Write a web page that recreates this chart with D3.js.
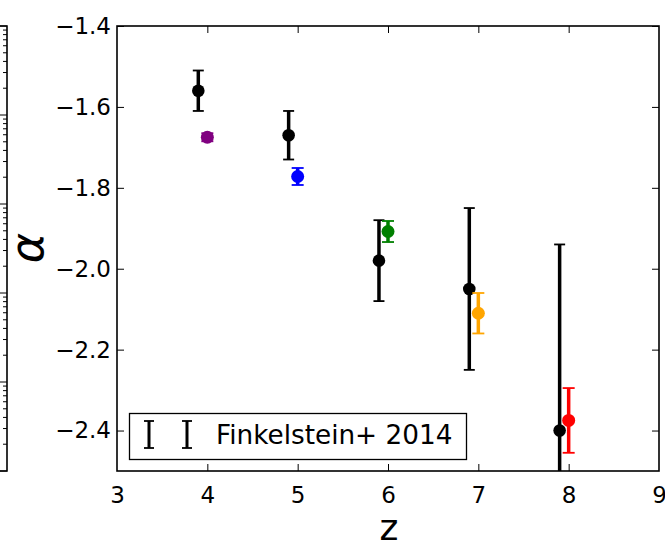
<!DOCTYPE html>
<html>
<head>
<meta charset="utf-8">
<script src="https://cdn.jsdelivr.net/npm/d3@7"></script>
<style>
  html, body { margin: 0; padding: 0; background: #fff; }
  svg { display: block; }
  text { font-family: "DejaVu Sans", sans-serif; fill: #000; }
</style>
</head>
<body>
<svg id="chart" width="665" height="543"></svg>
<script>
// ---- data ----
const finkZ = [3.9, 4.9, 5.9, 6.9, 7.9];
const finkAlpha = [-1.56, -1.67, -1.98, -2.05, -2.40];
const finkErrUp = [0.05, 0.06, 0.10, 0.20, 0.46];
const finkErrDown = [0.05, 0.06, 0.10, 0.20, 0.50];

const ourZ = [4, 5, 6, 7, 8];
const ourAlpha = [-1.675, -1.772, -1.908, -2.11, -2.375];
const ourErr = [0.01, 0.021, 0.026, 0.05, 0.08];
const ourColors = ["#800080", "#0000ff", "#008000", "#ffa500", "#ff0000"];

const xTicks = [3, 4, 5, 6, 7, 8, 9];
const yTicks = [-1.4, -1.6, -1.8, -2.0, -2.2, -2.4];
const xDomain = [3, 9];
const yDomain = [-2.5, -1.4];
const legendLabel = "Finkelstein+ 2014";
const leftPanelDomain = [1e-5, 1];

// ---- layout ----
const svg = d3.select("#chart");
const L = 117, R = 659, T = 26, B = 471;
const x = d3.scaleLinear().domain(xDomain).range([L, R]);
const y = d3.scaleLinear().domain(yDomain).range([B, T]);
const tickLen = 7;
const fmt = v => (v < 0 ? "\u2212" : "") + Math.abs(v).toFixed(1);

// ---- left (partial) panel with log axis ----
const yl = d3.scaleLog().domain(leftPanelDomain).range([B, T]);
const lp = svg.append("g");
const lpX = 7;
const logTicks = yl.ticks();
lp.selectAll("line.lt").data(logTicks).join("line")
  .attr("x1", lpX).attr("x2", d => {
    const m = d / Math.pow(10, Math.floor(Math.log10(d) + 1e-9));
    return Math.abs(m - 1) < 1e-6 ? lpX - 7 : lpX - 4;
  })
  .attr("y1", d => yl(d)).attr("y2", d => yl(d))
  .attr("stroke", "#000").attr("stroke-width", 1);
lp.append("path")
  .attr("d", `M0,${T}H${lpX}V${B}H0`)
  .attr("fill", "none").attr("stroke", "#000").attr("stroke-width", 1.6);

// ---- main axes ----
svg.append("clipPath").attr("id", "clip")
  .append("rect").attr("x", L).attr("y", T).attr("width", R - L).attr("height", B - T);

const axBottom = d3.axisBottom(x).tickValues(xTicks).tickSizeInner(-tickLen).tickSizeOuter(0).tickPadding(16).tickFormat(d3.format("d"));
const axTop = d3.axisTop(x).tickValues(xTicks).tickSizeInner(-tickLen).tickSizeOuter(0).tickFormat("");
const axLeft = d3.axisLeft(y).tickValues(yTicks).tickSizeInner(-tickLen).tickSizeOuter(0).tickPadding(6).tickFormat(fmt);
const axRight = d3.axisRight(y).tickValues(yTicks).tickSizeInner(-tickLen).tickSizeOuter(0).tickFormat("");

function styleAxis(g, fs) {
  g.select(".domain").remove();
  g.selectAll(".tick line").attr("stroke", "#000").attr("stroke-width", 1);
  g.selectAll(".tick text").attr("font-family", "DejaVu Sans").attr("font-size", fs).attr("fill", "#111");
}
svg.append("g").attr("transform", `translate(0,${B})`).call(axBottom).call(g => styleAxis(g, 23));
svg.append("g").attr("transform", `translate(0,${T})`).call(axTop).call(g => styleAxis(g, 23));
svg.append("g").attr("transform", `translate(${L},0)`).call(axLeft).call(g => styleAxis(g, 23));
svg.append("g").attr("transform", `translate(${R},0)`).call(axRight).call(g => styleAxis(g, 23));
svg.selectAll(".tick").filter(d => d === 3 || d === 9).select("line").remove();

// ---- data marks ----
const plot = svg.append("g").attr("clip-path", "url(#clip)");

function errorBar(g, cx, cy, lo, hi, color, cap, lw, r) {
  g.append("line").attr("x1", cx).attr("x2", cx).attr("y1", y(lo)).attr("y2", y(hi))
    .attr("stroke", color).attr("stroke-width", lw);
  [lo, hi].forEach(v => {
    g.append("line").attr("x1", cx - cap).attr("x2", cx + cap).attr("y1", y(v)).attr("y2", y(v))
      .attr("stroke", color).attr("stroke-width", 1.8);
  });
  g.append("circle").attr("cx", cx).attr("cy", cy).attr("r", r).attr("fill", color);
}

finkZ.forEach((z, i) => {
  errorBar(plot, x(z), y(finkAlpha[i]), finkAlpha[i] - finkErrDown[i], finkAlpha[i] + finkErrUp[i], "#000", 5.5, 3.5, 6.3);
});
ourZ.forEach((z, i) => {
  errorBar(plot, x(z), y(ourAlpha[i]), ourAlpha[i] - ourErr[i], ourAlpha[i] + ourErr[i], ourColors[i], 6, 3.5, 6.5);
});

// ---- spines ----
svg.append("rect").attr("x", L).attr("y", T).attr("width", R - L).attr("height", B - T)
  .attr("fill", "none").attr("stroke", "#000").attr("stroke-width", 1.6);

// ---- legend ----
const lg = svg.append("g");
lg.append("rect").attr("x", 129.5).attr("y", 413.5).attr("width", 337).attr("height", 46)
  .attr("fill", "#fff").attr("stroke", "#000").attr("stroke-width", 1.3);
[149, 187].forEach(cx => {
  lg.append("line").attr("x1", cx).attr("x2", cx).attr("y1", 421).attr("y2", 448).attr("stroke", "#000").attr("stroke-width", 3);
  [421, 448].forEach(yy => lg.append("line").attr("x1", cx - 5).attr("x2", cx + 5).attr("y1", yy).attr("y2", yy).attr("stroke", "#000").attr("stroke-width", 1.8));
});
lg.append("text").attr("x", 216).attr("y", 444).attr("font-size", 26.3).text(legendLabel);

// ---- axis labels ----
svg.append("text").attr("x", 389).attr("y", 540).attr("text-anchor", "middle")
  .attr("font-size", 36).text("z");
svg.append("text").attr("transform", "translate(43,248) rotate(-90)").attr("text-anchor", "middle")
  .attr("font-family", "DejaVu Serif").attr("font-style", "italic").attr("font-size", 46).text("\u03b1");
</script>
</body>
</html>
